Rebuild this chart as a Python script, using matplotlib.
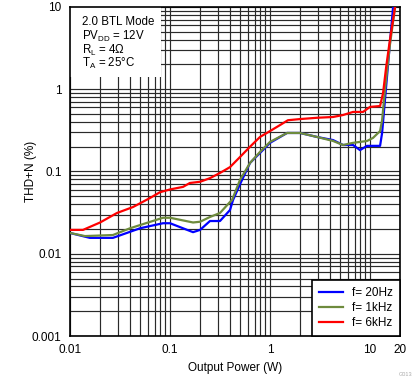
import matplotlib
matplotlib.use('Agg')
import matplotlib.pyplot as plt
from matplotlib.patches import Rectangle

plt.rcParams['font.family'] = ['Liberation Sans', 'DejaVu Sans']
plt.rcParams['mathtext.fontset'] = 'custom'
plt.rcParams['mathtext.rm'] = 'Liberation Sans'

# Datos (potencia en W, THD+N en %)
p_20hz = [0.01, 0.0158, 0.0269, 0.0501, 0.0851, 0.1, 0.17, 0.2, 0.251, 0.316,
          0.398, 0.427, 0.501, 0.631, 0.794, 1.0, 1.48, 2.0, 2.95, 4.27, 5.37,
          6.76, 7.94, 9.33, 12.6, 13.2, 14.1, 17.0]
thd_20hz = [0.0179, 0.0156, 0.0156, 0.0204, 0.0235, 0.0235, 0.0183, 0.0195, 0.025, 0.025,
            0.034, 0.045, 0.07, 0.127, 0.168, 0.223, 0.294, 0.294, 0.263, 0.241, 0.21,
            0.21, 0.182, 0.205, 0.205, 0.294, 0.74, 10]

p_1khz = [0.01, 0.0141, 0.0269, 0.0398, 0.0851, 0.1, 0.17, 0.2, 0.251, 0.316,
          0.398, 0.417, 0.501, 0.631, 0.794, 1.0, 1.48, 2.0, 2.95, 4.27, 5.37,
          6.76, 9.33, 10.7, 12.6, 13.2, 14.1, 15.8, 17.8]
thd_1khz = [0.0179, 0.0164, 0.0169, 0.0204, 0.0274, 0.0274, 0.024, 0.0245, 0.028, 0.0313,
            0.0426, 0.045, 0.079, 0.127, 0.173, 0.229, 0.294, 0.294, 0.263, 0.235, 0.21,
            0.223, 0.235, 0.256, 0.31, 0.42, 0.98, 3.45, 10]

p_6khz = [0.01, 0.0135, 0.02, 0.0295, 0.0427, 0.0631, 0.0794, 0.1, 0.135, 0.158,
          0.2, 0.251, 0.316, 0.398, 0.501, 0.631, 0.794, 1.0, 1.26, 1.51, 2.0,
          2.95, 4.27, 5.37, 6.76, 8.51, 10, 12.6, 13.5, 14.5, 15.8, 17.8]
thd_6khz = [0.0195, 0.0195, 0.024, 0.0313, 0.037, 0.0476, 0.056, 0.0605, 0.065, 0.0725,
            0.075, 0.083, 0.096, 0.113, 0.15, 0.2, 0.263, 0.31, 0.367, 0.42, 0.434,
            0.45, 0.46, 0.486, 0.53, 0.53, 0.61, 0.625, 0.9, 1.87, 3.97, 10]

x_ticks = [0.01, 0.1, 1, 10, 20]
x_labels = ['0.01', '0.1', '1', '10', '20']
y_ticks = [0.001, 0.01, 0.1, 1, 10]
y_labels = ['0.001', '0.01', '0.1', '1', '10']

fig = plt.figure(figsize=(4.19, 3.82), dpi=100)
ax = fig.add_axes([0.167, 0.1204, 0.788, 0.8613])

ax.plot(p_20hz, thd_20hz, color='#0000FF', lw=1.6, label='f= 20Hz', zorder=3)
ax.plot(p_1khz, thd_1khz, color='#6E8B3D', lw=1.6, label='f= 1kHz', zorder=3)
ax.plot(p_6khz, thd_6khz, color='#FF0000', lw=1.6, label='f= 6kHz', zorder=3)

ax.set_xscale('log')
ax.set_yscale('log')
ax.set_xlim(0.01, 20)
ax.set_ylim(0.001, 10)
ax.set_xticks(x_ticks)
ax.set_xticklabels(x_labels)
ax.set_yticks(y_ticks)
ax.set_yticklabels(y_labels)
ax.minorticks_on()
ax.tick_params(which='both', length=0, labelsize=8.5, pad=6)
ax.grid(True, which='both', color='#2a2a2a', lw=0.85)
ax.set_axisbelow(True)
for s in ax.spines.values():
    s.set_color('black')
    s.set_linewidth(1.2)

ax.set_xlabel('Output Power (W)', fontsize=8.5, labelpad=4)
ax.set_ylabel('THD+N (%)', fontsize=8.5, labelpad=-4)

# Caja blanca con las condiciones de prueba
ax.add_patch(Rectangle((0, 0.787), 0.276, 0.213, transform=ax.transAxes,
                       facecolor='white', edgecolor='none', zorder=2))
cond = ['2.0 BTL Mode', r'PV$_{\mathrm{DD}}$ = 12V',
        r'R$_{\mathrm{L}}$ = 4$\Omega$', r'T$_{\mathrm{A}}$ = 25°C']
for i, t in enumerate(cond):
    ax.text(0.036, 0.953 - i * 0.042, t, transform=ax.transAxes,
            fontsize=8.3, va='center', ha='left', zorder=4)

leg = ax.legend(loc='lower right', fontsize=8.5, fancybox=False, framealpha=1,
                edgecolor='black', borderaxespad=0, handlelength=2.0,
                handletextpad=0.8, labelspacing=0.25, borderpad=0.6)
leg.get_frame().set_linewidth(1.2)
leg.set_zorder(5)

fig.text(0.985, 0.012, 'G013', fontsize=4, color='#AAAAAA', ha='right', va='bottom')

fig.savefig('out.png', dpi=100)
